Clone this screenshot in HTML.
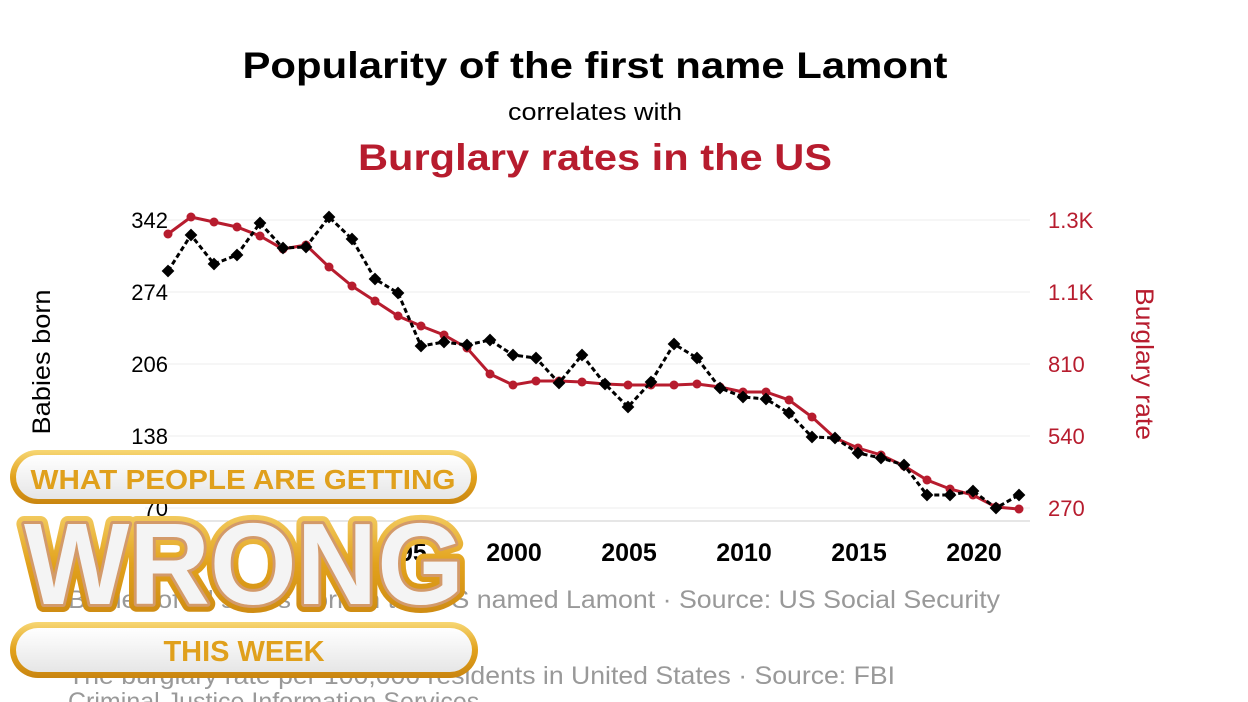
<!DOCTYPE html>
<html><head><meta charset="utf-8"><style>
body{margin:0;background:#fff;}
svg{display:block;font-family:"Liberation Sans",Arial,sans-serif;}
</style></head><body>
<svg width="1248" height="702" viewBox="0 0 1248 702" xmlns="http://www.w3.org/2000/svg">
<defs>
<linearGradient id="gold" x1="0" y1="0" x2="0" y2="1">
<stop offset="0" stop-color="#f7d774"/><stop offset="0.5" stop-color="#e2a21c"/><stop offset="1" stop-color="#c98510"/>
</linearGradient>
<linearGradient id="pill" x1="0" y1="0" x2="0" y2="1">
<stop offset="0" stop-color="#ffffff"/><stop offset="1" stop-color="#e6e6e6"/>
</linearGradient>
</defs>
<text x="595" y="78" text-anchor="middle" font-size="37" font-weight="bold" fill="#000" textLength="705" lengthAdjust="spacingAndGlyphs">Popularity of the first name Lamont</text>
<text x="595" y="120" text-anchor="middle" font-size="24" fill="#000" textLength="174" lengthAdjust="spacingAndGlyphs">correlates with</text>
<text x="595" y="170" text-anchor="middle" font-size="37" font-weight="bold" fill="#b71c2e" textLength="474" lengthAdjust="spacingAndGlyphs">Burglary rates in the US</text>
<g stroke="#eeeeee" stroke-width="1">
<line x1="145" y1="220" x2="1030" y2="220"/><line x1="145" y1="292" x2="1030" y2="292"/>
<line x1="145" y1="364" x2="1030" y2="364"/><line x1="145" y1="436" x2="1030" y2="436"/>
<line x1="145" y1="508" x2="1030" y2="508"/>
</g>
<line x1="145" y1="521" x2="1030" y2="521" stroke="#ccc"/>
<g font-size="22" fill="#000" text-anchor="end">
<text x="168" y="228">342</text><text x="168" y="300">274</text><text x="168" y="372">206</text><text x="168" y="444">138</text><text x="168" y="516">70</text>
</g>
<g font-size="22" fill="#b71c2e">
<text x="1048" y="228">1.3K</text><text x="1048" y="300">1.1K</text><text x="1048" y="372">810</text><text x="1048" y="444">540</text><text x="1048" y="516">270</text>
</g>
<g font-size="25" font-weight="bold" fill="#000" text-anchor="middle">
<text x="399" y="561">1995</text><text x="514" y="561">2000</text><text x="629" y="561">2005</text><text x="744" y="561">2010</text><text x="859" y="561">2015</text><text x="974" y="561">2020</text>
</g>
<text transform="translate(50,362) rotate(-90)" text-anchor="middle" font-size="25" fill="#000" textLength="145" lengthAdjust="spacingAndGlyphs">Babies born</text>
<text transform="translate(1136,364) rotate(90)" text-anchor="middle" font-size="25" fill="#b71c2e" textLength="152" lengthAdjust="spacingAndGlyphs">Burglary rate</text>
<polyline fill="none" stroke="#b71c2e" stroke-width="3" points="168,234 191,217 214,222 237,227 260,236 283,249 306,245 329,267 352,286 375,301 398,316 421,326 444,335 467,348 490,374 513,385 536,381 559,381 582,382 605,384 628,385 651,385 674,385 697,384 720,387 743,392 766,392 789,400 812,417 835,438 858,448 881,455 904,466 927,480 950,489 973,495 996,507 1019,509"/>
<g fill="#b71c2e">
<circle cx="168" cy="234" r="4.5"/><circle cx="191" cy="217" r="4.5"/><circle cx="214" cy="222" r="4.5"/><circle cx="237" cy="227" r="4.5"/><circle cx="260" cy="236" r="4.5"/><circle cx="283" cy="249" r="4.5"/><circle cx="306" cy="245" r="4.5"/><circle cx="329" cy="267" r="4.5"/><circle cx="352" cy="286" r="4.5"/><circle cx="375" cy="301" r="4.5"/><circle cx="398" cy="316" r="4.5"/><circle cx="421" cy="326" r="4.5"/><circle cx="444" cy="335" r="4.5"/><circle cx="467" cy="348" r="4.5"/><circle cx="490" cy="374" r="4.5"/><circle cx="513" cy="385" r="4.5"/><circle cx="536" cy="381" r="4.5"/><circle cx="559" cy="381" r="4.5"/><circle cx="582" cy="382" r="4.5"/><circle cx="605" cy="384" r="4.5"/><circle cx="628" cy="385" r="4.5"/><circle cx="651" cy="385" r="4.5"/><circle cx="674" cy="385" r="4.5"/><circle cx="697" cy="384" r="4.5"/><circle cx="720" cy="387" r="4.5"/><circle cx="743" cy="392" r="4.5"/><circle cx="766" cy="392" r="4.5"/><circle cx="789" cy="400" r="4.5"/><circle cx="812" cy="417" r="4.5"/><circle cx="835" cy="438" r="4.5"/><circle cx="858" cy="448" r="4.5"/><circle cx="881" cy="455" r="4.5"/><circle cx="904" cy="466" r="4.5"/><circle cx="927" cy="480" r="4.5"/><circle cx="950" cy="489" r="4.5"/><circle cx="973" cy="495" r="4.5"/><circle cx="996" cy="507" r="4.5"/><circle cx="1019" cy="509" r="4.5"/>
</g>
<polyline fill="none" stroke="#000" stroke-width="3" stroke-dasharray="5,3" points="168,271 191,235 214,264 237,255 260,223 283,248 306,247 329,217 352,239 375,279 398,293 421,346 444,342 467,345 490,340 513,355 536,358 559,383 582,355 605,384 628,407 651,382 674,344 697,358 720,388 743,397 766,399 789,413 812,437 835,438 858,453 881,458 904,465 927,495 950,495 973,491 996,508 1019,495"/>
<g fill="#000">
<rect x="163.5" y="266.5" width="9" height="9" transform="rotate(45 168 271)"/><rect x="186.5" y="230.5" width="9" height="9" transform="rotate(45 191 235)"/><rect x="209.5" y="259.5" width="9" height="9" transform="rotate(45 214 264)"/><rect x="232.5" y="250.5" width="9" height="9" transform="rotate(45 237 255)"/><rect x="255.5" y="218.5" width="9" height="9" transform="rotate(45 260 223)"/><rect x="278.5" y="243.5" width="9" height="9" transform="rotate(45 283 248)"/><rect x="301.5" y="242.5" width="9" height="9" transform="rotate(45 306 247)"/><rect x="324.5" y="212.5" width="9" height="9" transform="rotate(45 329 217)"/><rect x="347.5" y="234.5" width="9" height="9" transform="rotate(45 352 239)"/><rect x="370.5" y="274.5" width="9" height="9" transform="rotate(45 375 279)"/><rect x="393.5" y="288.5" width="9" height="9" transform="rotate(45 398 293)"/><rect x="416.5" y="341.5" width="9" height="9" transform="rotate(45 421 346)"/><rect x="439.5" y="337.5" width="9" height="9" transform="rotate(45 444 342)"/><rect x="462.5" y="340.5" width="9" height="9" transform="rotate(45 467 345)"/><rect x="485.5" y="335.5" width="9" height="9" transform="rotate(45 490 340)"/><rect x="508.5" y="350.5" width="9" height="9" transform="rotate(45 513 355)"/><rect x="531.5" y="353.5" width="9" height="9" transform="rotate(45 536 358)"/><rect x="554.5" y="378.5" width="9" height="9" transform="rotate(45 559 383)"/><rect x="577.5" y="350.5" width="9" height="9" transform="rotate(45 582 355)"/><rect x="600.5" y="379.5" width="9" height="9" transform="rotate(45 605 384)"/><rect x="623.5" y="402.5" width="9" height="9" transform="rotate(45 628 407)"/><rect x="646.5" y="377.5" width="9" height="9" transform="rotate(45 651 382)"/><rect x="669.5" y="339.5" width="9" height="9" transform="rotate(45 674 344)"/><rect x="692.5" y="353.5" width="9" height="9" transform="rotate(45 697 358)"/><rect x="715.5" y="383.5" width="9" height="9" transform="rotate(45 720 388)"/><rect x="738.5" y="392.5" width="9" height="9" transform="rotate(45 743 397)"/><rect x="761.5" y="394.5" width="9" height="9" transform="rotate(45 766 399)"/><rect x="784.5" y="408.5" width="9" height="9" transform="rotate(45 789 413)"/><rect x="807.5" y="432.5" width="9" height="9" transform="rotate(45 812 437)"/><rect x="830.5" y="433.5" width="9" height="9" transform="rotate(45 835 438)"/><rect x="853.5" y="448.5" width="9" height="9" transform="rotate(45 858 453)"/><rect x="876.5" y="453.5" width="9" height="9" transform="rotate(45 881 458)"/><rect x="899.5" y="460.5" width="9" height="9" transform="rotate(45 904 465)"/><rect x="922.5" y="490.5" width="9" height="9" transform="rotate(45 927 495)"/><rect x="945.5" y="490.5" width="9" height="9" transform="rotate(45 950 495)"/><rect x="968.5" y="486.5" width="9" height="9" transform="rotate(45 973 491)"/><rect x="991.5" y="503.5" width="9" height="9" transform="rotate(45 996 508)"/><rect x="1014.5" y="490.5" width="9" height="9" transform="rotate(45 1019 495)"/>
</g>
<g font-size="25" fill="#999">
<text x="68" y="608" textLength="932" lengthAdjust="spacingAndGlyphs">Babies of all sexes born in the US named Lamont · Source: US Social Security</text>
<text x="68" y="684" textLength="827" lengthAdjust="spacingAndGlyphs">The burglary rate per 100,000 residents in United States · Source: FBI</text>
<text x="68" y="710">Criminal Justice Information Services</text>
</g>
<!-- badge -->
<rect x="10" y="450" width="467" height="54" rx="27" fill="url(#gold)"/>
<rect x="16" y="455" width="455" height="44" rx="22" fill="url(#pill)"/>
<text x="243" y="489" text-anchor="middle" font-size="28" font-weight="bold" fill="#e0a01c" textLength="425" lengthAdjust="spacingAndGlyphs">WHAT PEOPLE ARE GETTING</text>
<rect x="10" y="622" width="468" height="56" rx="28" fill="url(#gold)"/>
<rect x="16" y="628" width="456" height="44" rx="22" fill="url(#pill)"/>
<text x="244" y="661" text-anchor="middle" font-size="29" font-weight="bold" fill="#e0a01c">THIS WEEK</text>
<text x="244" y="604" text-anchor="middle" font-size="116" font-weight="900" fill="#f4f4f4" stroke="url(#gold)" stroke-width="16" stroke-linejoin="round" textLength="440" lengthAdjust="spacingAndGlyphs">WRONG</text>
<text x="244" y="604" text-anchor="middle" font-size="116" font-weight="900" fill="#f4f4f4" stroke="#d39a6a" stroke-width="6" stroke-linejoin="round" textLength="440" lengthAdjust="spacingAndGlyphs">WRONG</text>
<text x="244" y="604" text-anchor="middle" font-size="116" font-weight="900" fill="#f4f4f4" textLength="440" lengthAdjust="spacingAndGlyphs">WRONG</text>
</svg>
</body></html>
